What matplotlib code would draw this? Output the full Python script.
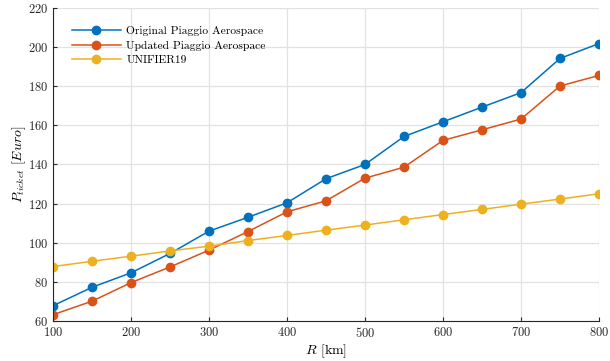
import matplotlib
matplotlib.use("Agg")
import matplotlib.pyplot as plt

plt.rcParams['font.family'] = 'cmr10'
plt.rcParams['mathtext.fontset'] = 'cm'
plt.rcParams['axes.formatter.use_mathtext'] = True

# dati
R_km = [100, 150, 200, 250, 300, 350, 400, 450, 500, 550, 600, 650, 700, 750, 800]
original = [67.8, 77.2, 84.6, 94.5, 105.9, 113.0, 120.4, 132.7, 140.0, 154.3,
            161.8, 169.3, 176.7, 194.2, 201.8]
updated = [63.2, 70.1, 79.6, 87.6, 96.2, 105.7, 115.8, 121.4, 133.0, 138.6,
           152.3, 157.7, 163.2, 180.1, 185.5]
unifier = [87.8, 90.5, 93.1, 95.8, 98.2, 101.1, 103.7, 106.4, 109.0, 111.7,
           114.4, 117.0, 119.7, 122.3, 125.0]

fig = plt.figure(figsize=(6.1, 3.61), dpi=100)
ax = fig.add_axes([0.087, 0.111, 0.895, 0.867])

ax.plot(R_km, original, '-o', color='#0072BD', lw=1.1, ms=6, label='Original Piaggio Aerospace')
ax.plot(R_km, updated, '-o', color='#D95319', lw=1.1, ms=6, label='Updated Piaggio Aerospace')
ax.plot(R_km, unifier, '-o', color='#EDB120', lw=1.1, ms=6, label='UNIFIER19')

ax.set_xlim(100, 800)
ax.set_ylim(60, 220)
ax.set_xticks(range(100, 801, 100))
ax.set_yticks(range(60, 221, 20))
ax.grid(True, color='#e2e2e2', lw=0.9)
ax.set_axisbelow(True)

ax.spines['top'].set_visible(False)
ax.spines['right'].set_visible(False)
ax.spines['left'].set_color('#262626')
ax.spines['bottom'].set_color('#262626')
ax.tick_params(direction='in', length=3, labelsize=9, colors='#262626')

ax.set_xlabel(r'$R$ [km]', fontsize=10, labelpad=2)
ax.set_ylabel(r'$P_{ticket}\ [Euro]$', fontsize=10, labelpad=0)

ax.legend(loc='upper left', frameon=False, fontsize=8.3, handlelength=4.3,
          labelspacing=0.38, borderaxespad=1.2, handletextpad=0.45)

plt.savefig('out.png', dpi=100)
